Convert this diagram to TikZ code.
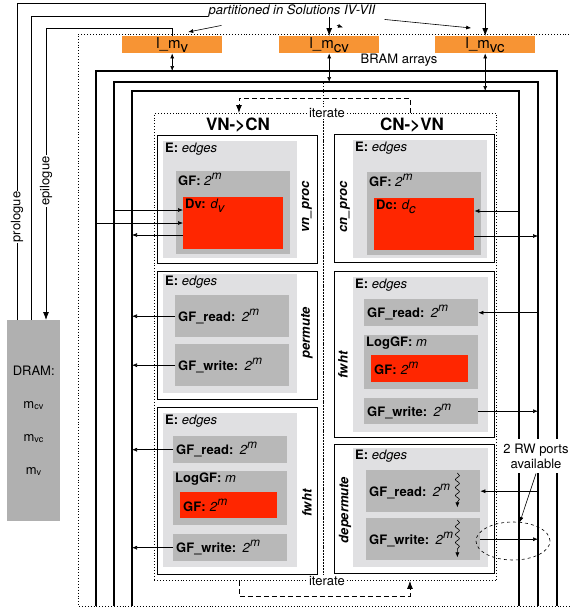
\documentclass[tikz,border=0pt]{standalone}
\usepackage{fontspec}
\setmainfont{TeX Gyre Heros}
\usetikzlibrary{shapes.geometric,arrows.meta,positioning,calc,decorations.pathmorphing}
\definecolor{bramorange}{RGB}{247,148,52}
\definecolor{gfred}{RGB}{255,38,0}
\definecolor{egray}{RGB}{224,224,226}
\definecolor{gfgray}{RGB}{184,184,184}
\definecolor{dramgray}{RGB}{176,176,176}
\newcommand{\up}[1]{\raisebox{0.45em}{\fontsize{12}{12}\selectfont\textit{#1}}}
\newcommand{\lo}[1]{\raisebox{-0.3em}{#1}}
\newcommand{\pw}{\textit{2}\up{m}}

\begin{document}
\begin{tikzpicture}[x=1pt, y=-1pt, >={Latex[length=5pt,width=4pt]}, font=\fontsize{13}{15}\selectfont]
        \tikzset{
            blk/.style={draw, thick, fill=white, anchor=north west, inner sep=0pt},
            ebox/.style={fill=egray, anchor=north west, inner sep=0pt},
            gbox/.style={fill=gfgray, anchor=north west, inner sep=0pt},
            rbox/.style={fill=gfred, anchor=north west, inner sep=0pt},
            row/.style={inner xsep=3pt, inner ysep=0pt, align=left},
            lbl/.style={anchor=north west, inner sep=2pt},
            side/.style={rotate=90, font=\fontsize{13}{15}\selectfont\bfseries\itshape},
            title/.style={font=\fontsize{17}{19}\selectfont\bfseries},
            bram/.style={fill=bramorange, anchor=north west, inner sep=0pt, minimum width=100pt, minimum height=17pt, text height=11pt, text depth=4pt, font=\fontsize{15}{17}\selectfont},
            bus/.style={line width=1.8pt},
            wire/.style={->, line width=0.6pt},
            feed/.style={line width=0.8pt},
            iter/.style={dash pattern=on 5pt off 3pt, line width=0.8pt},
            region/.style={draw, dotted, line width=0.9pt, anchor=north west, inner sep=0pt},
            wiggle/.style={->, line width=0.6pt, decorate, decoration={snake, amplitude=2pt, segment length=8pt, post length=5pt}},
            bigtip/.style={-{Latex[length=8pt,width=6pt]}}
        }
        \useasboundingbox (0,0) rectangle (571,614);

        % FPGA outline and buses
        \draw[dotted, line width=0.9pt] (575,34) -- (78,34) -- (78,606) -- (575,606);
        \coordinate (busO) at (96,71);
        \coordinate (busM) at (114,82);
        \coordinate (busI) at (132,91);
        \coordinate (busOr) at (557,71);
        \coordinate (busMr) at (538,82);
        \coordinate (busIr) at (519,91);
        \draw[bus] (busO |- 0,606) -- (busO) -- (busOr) -- (busOr |- 0,606);
        \draw[bus] (busM |- 0,606) -- (busM) -- (busMr) -- (busMr |- 0,606);
        \draw[bus] (busI |- 0,606) -- (busI) -- (busIr) -- (busIr |- 0,606);

        % BRAM arrays
        \node[bram] (lmv) at (122,36) {l\_m\lo{v}};
        \node[bram] (lmcv) at (279,36) {l\_m\lo{cv}};
        \node[bram] (lmvc) at (435,36) {l\_m\lo{vc}};
        \node (bramtxt) at (399,60) {BRAM arrays};
        \draw[<->, line width=0.6pt] (lmv.south) -- (lmv.south |- busO);
        \draw[<->, line width=0.6pt] (lmcv.south) -- (lmcv.south |- busM);
        \draw[<->, line width=0.6pt] (lmvc.south) -- (lmvc.south |- busI);

        % DRAM
        \node[fill=dramgray, anchor=north west, minimum width=53pt, minimum height=201pt, inner sep=0pt, align=center] (dram) at (7,320) {DRAM:\\[18pt] m\textsubscript{cv}\\[18pt] m\textsubscript{vc}\\[18pt] m\textsubscript{v}};
        \draw[feed, bigtip] ($(dram.north west)+(10,0)$) -- ++(0,-317) -| (lmvc.north);
        \draw[feed, bigtip] ($(dram.north west)+(24,0)$) -- ++(0,-304) -| (lmcv.north);
        \draw[feed, bigtip] (lmv.north) -- ++(0,-8) -| ($(dram.north west)+(39,0)$);
        \node[fill=white, rotate=90, inner sep=1pt] (prolbl) at (17,217) {prologue};
        \node[fill=white, rotate=90, inner sep=1pt] (epilbl) at (46,181) {epilogue};

        % partitioning note
        \node[fill=white, inner xsep=1pt, inner ysep=0pt, font=\fontsize{13}{15}\selectfont\itshape] (parttxt) at (292,11) {partitioned in Solutions IV-VII};
        \draw[wire] ($(parttxt.south west)+(14,8)$) -- ($(lmv.north)+(16,-4)$);
        \draw[wire] ($(parttxt.south)+(45,8)$) -- ++(6,2);
        \draw[wire] ($(parttxt.south east)+(8,2)$) -- ($(lmvc.north)+(-14,-8)$);

        % iteration regions
        \node[region, minimum width=169pt, minimum height=467pt] (vnreg) at (154,113) {};
        \node[region, minimum width=173pt, minimum height=467pt] (cnreg) at (323,113) {};
        \draw[dotted, line width=0.9pt] (vnreg.north east) -- ++(0,-30);
        \draw[iter, bigtip] (cnreg.north) -- ++(0,-15) -| (vnreg.north);
        \draw[iter, bigtip] (vnreg.south) -- ++(0,15) -| (cnreg.south);
        \node[fill=white, inner sep=1pt, xshift=3pt] (itTop) at (vnreg.north east) {iterate};
        \node[fill=white, inner sep=1pt, xshift=3pt] (itBot) at (vnreg.south east) {iterate};
        \node[title] (vntitle) at (238,125) {VN->CN};
        \node[title] (cntitle) at (412,125) {CN->VN};

        % VN->CN: vn_proc
        \node[blk, minimum width=160pt, minimum height=128pt] (vnproc) at (157,135) {};
        \node[ebox, minimum width=134pt, minimum height=117pt] (vnprocE) at (163,141) {};
        \node[gbox, minimum width=114pt, minimum height=83pt] (vnprocGF) at (176,171) {};
        \node[rbox, minimum width=100pt, minimum height=52pt] (Dv) at (183,197) {};
        \node[lbl] (vnprocEl) at (vnprocE.north west) {\textbf{E:} \textit{edges}};
        \node[lbl] (vnprocGFl) at (vnprocGF.north west) {\textbf{GF:} \pw};
        \node[lbl] (Dvl) at (Dv.north west) {\textbf{Dv:} \textit{d\lo{v}}};
        \node[side] (vnproclbl) at (307,207) {vn\_proc};

        % VN->CN: permute
        \node[blk, minimum width=160pt, minimum height=128pt] (permute) at (157,271) {};
        \node[ebox, minimum width=134pt, minimum height=119pt] (permuteE) at (163,274) {};
        \node[lbl] (permuteEl) at (permuteE.north west) {\textbf{E:} \textit{edges}};
        \node[gbox, row, text width=108pt, minimum height=42pt] (permRead) at (175,295) {\textbf{GF\_read:} \pw};
        \node[gbox, row, text width=108pt, minimum height=42pt] (permWrite) at (175,344) {\textbf{GF\_write:} \pw};
        \node[side] (permutelbl) at (307,333) {permute};

        % VN->CN: fwht
        \node[blk, minimum width=160pt, minimum height=167pt] (vnfwht) at (157,407) {};
        \node[ebox, minimum width=134pt, minimum height=154pt] (vnfwhtE) at (163,413) {};
        \node[lbl] (vnfwhtEl) at (vnfwhtE.north west) {\textbf{E:} \textit{edges}};
        \node[gbox, row, text width=108pt, minimum height=27pt] (vfRead) at (173,436) {\textbf{GF\_read:} \pw};
        \node[gbox, minimum width=114pt, minimum height=54pt] (vfLog) at (173,471) {};
        \node[lbl] (vfLogl) at (vfLog.north west) {\textbf{LogGF:} \textit{m}};
        \node[rbox, row, text width=91pt, minimum height=26pt] (vfGF) at (180,492) {\textbf{GF:} \pw};
        \node[gbox, row, text width=108pt, minimum height=27pt] (vfWrite) at (173,534) {\textbf{GF\_write:} \pw};
        \node[side] (vnfwhtlbl) at (307,503) {fwht};

        % CN->VN: cn_proc
        \node[blk, minimum width=160pt, minimum height=128pt] (cnproc) at (334,134) {};
        \node[ebox, minimum width=134pt, minimum height=118pt] (cnprocE) at (353,140) {};
        \node[gbox, minimum width=114pt, minimum height=83pt] (cnprocGF) at (367,172) {};
        \node[rbox, minimum width=100pt, minimum height=52pt] (Dc) at (374,198) {};
        \node[lbl] (cnprocEl) at (cnprocE.north west) {\textbf{E:} \textit{edges}};
        \node[lbl] (cnprocGFl) at (cnprocGF.north west) {\textbf{GF:} \pw};
        \node[lbl] (Dcl) at (Dc.north west) {\textbf{Dc:} \textit{d\lo{c}}};
        \node[side] (cnproclbl) at (345,207) {cn\_proc};

        % CN->VN: fwht
        \node[blk, minimum width=160pt, minimum height=166pt] (cnfwht) at (334,271) {};
        \node[ebox, minimum width=135pt, minimum height=155pt] (cnfwhtE) at (353,277) {};
        \node[lbl] (cnfwhtEl) at (cnfwhtE.north west) {\textbf{E:} \textit{edges}};
        \node[gbox, row, text width=108pt, minimum height=27pt] (cfRead) at (364,299) {\textbf{GF\_read:} \pw};
        \node[gbox, minimum width=114pt, minimum height=54pt] (cfLog) at (364,335) {};
        \node[lbl] (cfLogl) at (cfLog.north west) {\textbf{LogGF:} \textit{m}};
        \node[rbox, row, text width=91pt, minimum height=27pt] (cfGF) at (371,355) {\textbf{GF:} \pw};
        \node[gbox, row, text width=108pt, minimum height=26pt] (cfWrite) at (364,398) {\textbf{GF\_write:} \pw};
        \node[side] (cnfwhtlbl) at (343,365) {fwht};

        % CN->VN: depermute
        \node[blk, minimum width=160pt, minimum height=129pt] (deperm) at (334,444) {};
        \node[ebox, minimum width=135pt, minimum height=119pt] (depermE) at (353,448) {};
        \node[lbl] (depermEl) at (depermE.north west) {\textbf{E:} \textit{edges}};
        \node[gbox, row, text width=108pt, minimum height=42pt] (dpRead) at (366,470) {\textbf{GF\_read:} \pw};
        \node[gbox, row, text width=108pt, minimum height=42pt] (dpWrite) at (366,518) {\textbf{GF\_write:} \pw};
        \node[side] (depermlbl) at (345,510) {depermute};
        \draw[wiggle] ($(dpRead.north east)+(-23,3)$) -- ($(dpRead.south east)+(-23,-5)$);
        \draw[wiggle] ($(dpWrite.north east)+(-23,2)$) -- ($(dpWrite.south east)+(-23,-3)$);

        % VN side bus accesses
        \draw[wire] (busM |- 0,210) -- (Dv.west |- 0,210);
        \draw[wire] (busO |- 0,223) -- (Dv.west |- 0,223);
        \draw[wire] (Dv.west |- 0,235) -- (busI |- 0,235);
        \draw[wire] (permRead.west) -- (permRead.west -| busI);
        \draw[wire] (permWrite.west) -- (permWrite.west -| busI);
        \draw[wire] (vfRead.west) -- (vfRead.west -| busI);
        \draw[wire] (vfWrite.west) -- (vfWrite.west -| busI);

        % CN side bus accesses
        \draw[wire] (busIr |- 0,211) -- (Dc.east |- 0,211);
        \draw[wire] (Dc.east |- 0,236) -- (busMr |- 0,236);
        \draw[wire] (cfRead.east -| busMr) -- (cfRead.east);
        \draw[wire] (cfWrite.east) -- (cfWrite.east -| busMr);
        \draw[wire] (dpRead.east -| busMr) -- (dpRead.east);
        \draw[wire] (dpWrite.east) -- (dpWrite.east -| busMr);

        % RW ports note
        \node[draw, dashed, ellipse, line width=0.6pt, minimum width=74pt, minimum height=38pt, inner sep=0pt] (ports) at (513,541) {};
        \node[fill=white, inner sep=5pt, align=center] (rwtxt) at (536,456) {2 RW ports\\available};
        \draw[wire] (rwtxt.south) -- (ports.70);

    \end{tikzpicture}
\end{document}
